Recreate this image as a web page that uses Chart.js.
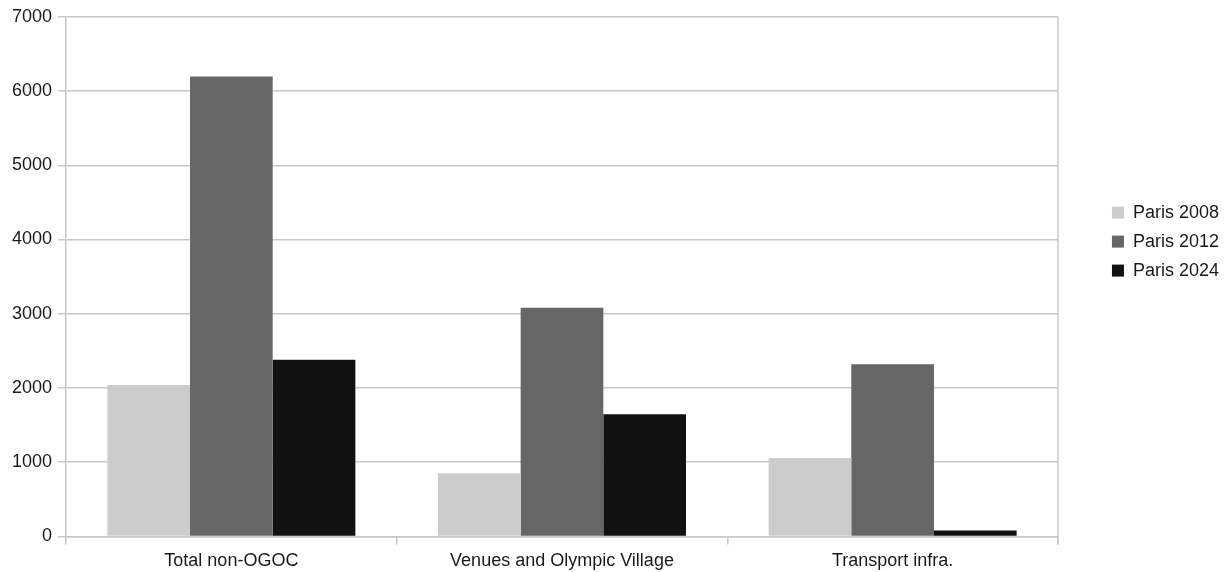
<!DOCTYPE html>
<html>
<head>
<meta charset="utf-8">
<script src="https://cdn.jsdelivr.net/npm/chart.js@4"></script>
<style>
  html, body { margin: 0; padding: 0; background: #fff; }
  #wrap { width: 1227px; height: 572px; }
</style>
</head>
<body>
<div id="wrap"><canvas id="costs"></canvas></div>
<script>
var categories = ["Total non-OGOC", "Venues and Olympic Village", "Transport infra."];
var paris2008 = [2040, 850, 1055];
var paris2012 = [6195, 3080, 2320];
var paris2024 = [2380, 1645, 80];
var yTicks = [0, 1000, 2000, 3000, 4000, 5000, 6000, 7000];

var gridGray = "#c8c8c8";

// right edge of the plot frame
var rightFrame = {
  id: 'rightFrame',
  afterDraw: function(chart) {
    var a = chart.chartArea, c = chart.ctx;
    c.save();
    c.strokeStyle = gridGray;
    c.lineWidth = 1.5;
    c.beginPath();
    c.moveTo(a.right, a.top);
    c.lineTo(a.right, a.bottom + 8);
    c.stroke();
    c.restore();
  }
};

Chart.defaults.font.family = "'Liberation Sans', Arial, sans-serif";
Chart.defaults.font.size = 18;
Chart.defaults.color = "#1a1a1a";

var ctx_costs = document.getElementById("costs").getContext('2d');
var costsGraph = new Chart(ctx_costs, {
  type: 'bar',
  data: {
    labels: categories,
    datasets: [{
      label: 'Paris 2008',
      data: paris2008,
      backgroundColor: "#cccccc",
      borderWidth: 0
    }, {
      label: 'Paris 2012',
      data: paris2012,
      backgroundColor: "#666666",
      borderWidth: 0
    }, {
      label: 'Paris 2024',
      data: paris2024,
      backgroundColor: "#111111",
      borderWidth: 0
    }]
  },
  options: {
    responsive: true,
    maintainAspectRatio: false,
    animation: false,
    layout: { padding: { left: 6, top: 10, right: -2, bottom: -6 } },
    datasets: { bar: { categoryPercentage: 0.75, barPercentage: 1.0 } },
    plugins: {
      tooltip: { enabled: false },
      legend: {
        position: 'right',
        align: 'start',
        title: { display: true, text: '', padding: { top: 161, bottom: 0 } },
        labels: { boxWidth: 12, boxHeight: 12, padding: 11, color: "#1a1a1a" }
      }
    },
    scales: {
      x: {
        offset: true,
        grid: { offset: true, drawOnChartArea: false, color: gridGray, lineWidth: 1.5, tickLength: 8 },
        border: { color: gridGray, width: 1.5 },
        ticks: { padding: 6, maxRotation: 0 }
      },
      y: {
        min: 0,
        max: 7000,
        afterBuildTicks: function(axis) {
          axis.ticks = yTicks.map(function(v) { return { value: v }; });
        },
        grid: { color: gridGray, lineWidth: 1.5, tickLength: 8 },
        border: { color: gridGray, width: 1.5 },
        ticks: { padding: 6, callback: function(v) { return String(v); } }
      },
      // empty spacer between plot and legend
      gap: {
        type: 'linear',
        position: 'right',
        grid: { display: false },
        border: { display: false },
        ticks: { display: false },
        afterFit: function(axis) { axis.width = 43; }
      }
    }
  },
  plugins: [rightFrame]
});
</script>
</body>
</html>
